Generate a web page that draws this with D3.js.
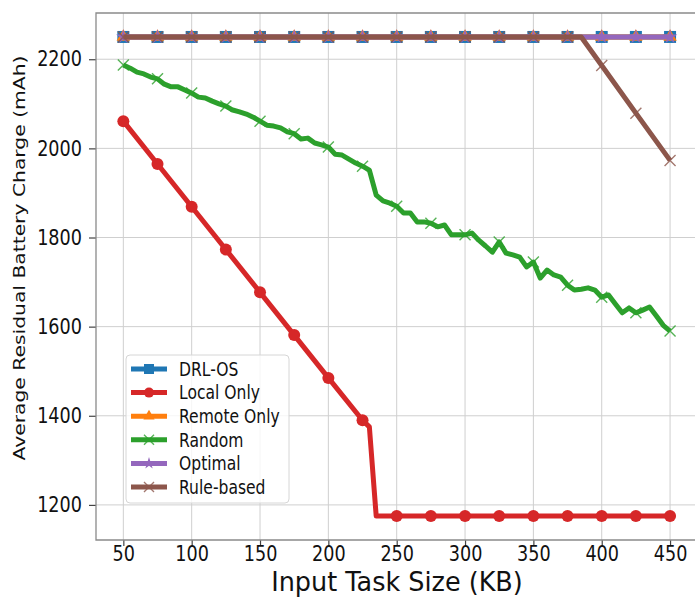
<!DOCTYPE html>
<html>
<head>
<meta charset="utf-8">
<script src="https://cdn.jsdelivr.net/npm/d3@7"></script>
<style>
  body { margin: 0; background: #fff; }
  svg { display: block; font-family: "DejaVu Sans", sans-serif; }
</style>
</head>
<body>
<div id="chart"></div>
<script>

// Task sizes (KB) where the flat series were sampled
var sizes = [50, 75, 100, 125, 150, 175, 200, 225, 250, 275, 300, 325, 350, 375, 400, 425, 450];

var drlOs      = [2250, 2250, 2250, 2250, 2250, 2250, 2250, 2250, 2250, 2250, 2250, 2250, 2250, 2250, 2250, 2250, 2250];
var remoteOnly = [2250, 2250, 2250, 2250, 2250, 2250, 2250, 2250, 2250, 2250, 2250, 2250, 2250, 2250, 2250, 2250, 2250];
var optimal    = [2250, 2250, 2250, 2250, 2250, 2250, 2250, 2250, 2250, 2250, 2250, 2250, 2250, 2250, 2250, 2250, 2250];

var localSizes = [50, 75, 100, 125, 150, 175, 200, 225, 230, 235, 250, 275, 300, 325, 350, 375, 400, 425, 450];
var localOnly  = [2061, 1965, 1869, 1773, 1677, 1581, 1485, 1390, 1375, 1175, 1175, 1175, 1175, 1175, 1175, 1175, 1175, 1175, 1175];

var randomSizes = [50, 55, 60, 65, 70, 75, 80, 85, 90, 95,
                   100, 105, 110, 115, 120, 125, 130, 135, 140, 145,
                   150, 155, 160, 165, 170, 175, 180, 185, 190, 195,
                   200, 205, 210, 215, 220, 225, 230, 235, 240, 245,
                   250, 255, 260, 265, 270, 275, 280, 285, 290, 295,
                   300, 305, 310, 315, 320, 325, 330, 335, 340, 345,
                   350, 355, 360, 365, 370, 375, 380, 385, 390, 395,
                   400, 405, 410, 415, 420, 425, 430, 435, 440, 445, 450];
var random = [2187, 2180, 2171, 2167, 2160, 2156, 2144, 2138, 2138, 2131,
              2124, 2115, 2113, 2106, 2100, 2095, 2086, 2082, 2077, 2070,
              2061, 2052, 2050, 2046, 2037, 2033, 2021, 2023, 2012, 2008,
              2003, 1987, 1985, 1976, 1967, 1960, 1951, 1895, 1882, 1877,
              1870, 1855, 1855, 1835, 1835, 1832, 1824, 1828, 1806, 1806,
              1806, 1810, 1794, 1781, 1767, 1790, 1765, 1761, 1756, 1734,
              1745, 1709, 1727, 1716, 1711, 1693, 1682, 1684, 1687, 1682,
              1666, 1671, 1651, 1631, 1642, 1631, 1637, 1644, 1624, 1603, 1590];

var ruleSizes = [50, 75, 100, 125, 150, 175, 200, 225, 250, 275, 300, 325, 350, 375, 385, 400, 425, 450];
var ruleBased = [2250, 2250, 2250, 2250, 2250, 2250, 2250, 2250, 2250, 2250, 2250, 2250, 2250, 2250, 2250, 2186, 2079, 1973];

var xTicks = [50, 100, 150, 200, 250, 300, 350, 400, 450];
var yTicks = [1200, 1400, 1600, 1800, 2000, 2200];

var width = 695,
    height = 597,
    plotLeft = 96,
    plotTop = 13,
    plotBottom = 540,
    squeeze = 0.82; // text in the picture is taller than it is wide

function zip(xs, ys){
  return xs.map(function(x, i){ return { x: x, y: ys[i] }; });
}

var series = [
  { name: 'DRL-OS',      color: '#1f77b4', marker: 'square',   data: zip(sizes, drlOs) },
  { name: 'Local Only',  color: '#d62728', marker: 'circle',   data: zip(localSizes, localOnly) },
  { name: 'Remote Only', color: '#ff7f0e', marker: 'triangle', data: zip(sizes, remoteOnly) },
  { name: 'Random',      color: '#2ca02c', marker: 'x',        data: zip(randomSizes, random) },
  { name: 'Optimal',     color: '#9467bd', marker: 'star',     data: zip(sizes, optimal) },
  { name: 'Rule-based',  color: '#8c564b', marker: 'x',        data: zip(ruleSizes, ruleBased) }
];

var x = d3.scaleLinear().domain([30, 470]).range([plotLeft, 697.4]);
var y = d3.scaleLinear().domain([1121.25, 2303.75]).range([plotBottom, plotTop]);

var svg = d3.select('#chart')
  .append('svg')
    .attr('width', width)
    .attr('height', height);

// Grid
svg.append('g')
  .selectAll('line')
  .data(xTicks)
  .enter()
    .append('line')
      .attr('x1', function(d){ return x(d); })
      .attr('x2', function(d){ return x(d); })
      .attr('y1', plotTop)
      .attr('y2', plotBottom)
      .attr('stroke', '#cfcfcf')
      .attr('stroke-width', 1);

svg.append('g')
  .selectAll('line')
  .data(yTicks)
  .enter()
    .append('line')
      .attr('x1', plotLeft)
      .attr('x2', width)
      .attr('y1', function(d){ return y(d); })
      .attr('y2', function(d){ return y(d); })
      .attr('stroke', '#cfcfcf')
      .attr('stroke-width', 1);

// Axes
var xAxis = svg.append('g')
  .attr('transform', 'translate(0,' + plotBottom + ')')
  .call(d3.axisBottom(x).tickValues(xTicks).tickSize(6).tickSizeOuter(0).tickPadding(0));

var yAxis = svg.append('g')
  .attr('transform', 'translate(' + plotLeft + ',0)')
  .call(d3.axisLeft(y).tickValues(yTicks).tickFormat(d3.format('d')).tickSize(7).tickSizeOuter(0));

[xAxis, yAxis].forEach(function(ax){
  ax.select('.domain').remove();
  ax.selectAll('.tick line').attr('stroke', '#444').attr('stroke-width', 1.2);
  ax.selectAll('.tick text')
    .attr('fill', '#111')
    .style('font-size', '21px')
    .style('font-family', '"DejaVu Sans", sans-serif');
});
xAxis.selectAll('.tick text').attr('transform', 'scale(0.84,1)');
yAxis.selectAll('.tick text')
  .attr('x', -14 / 0.84)
  .attr('transform', 'scale(0.84,1)');

// Frame
svg.append('path')
  .attr('d', 'M' + (width + 2) + ',' + plotTop + 'H' + plotLeft + 'V' + plotBottom + 'H' + (width + 2))
  .attr('fill', 'none')
  .attr('stroke', '#8a8a8a')
  .attr('stroke-width', 1.3);

// Marker shapes
function markerPath(kind, s){
  if (kind === 'square')   return d3.symbol(d3.symbolSquare, s * s)();
  if (kind === 'circle')   return d3.symbol(d3.symbolCircle, Math.PI * s * s / 4)();
  if (kind === 'triangle') return d3.symbol(d3.symbolTriangle, s * s * 0.55)();
  if (kind === 'star')     return d3.symbol(d3.symbolStar, s * s * 0.45)();
  var h = s / 2;
  return 'M' + (-h) + ',' + (-h) + 'L' + h + ',' + h + 'M' + (-h) + ',' + h + 'L' + h + ',' + (-h);
}

function drawMarker(g, kind, color, s){
  var p = g.append('path').attr('d', markerPath(kind, s));
  if (kind === 'x') {
    p.attr('fill', 'none').attr('stroke', color).attr('stroke-width', 1.4).attr('opacity', 0.8);
  } else {
    p.attr('fill', color);
  }
}

var line = d3.line()
  .x(function(d){ return x(d.x); })
  .y(function(d){ return y(d.y); });

var markerSize = { square: 12, circle: 12, triangle: 12, star: 12, x: 11 };

// Lines with markers every 25 KB, drawn in legend order
series.forEach(function(s){
  var g = svg.append('g');
  g.append('path')
    .datum(s.data)
    .attr('d', line)
    .attr('fill', 'none')
    .attr('stroke', s.color)
    .attr('stroke-width', 5)
    .attr('stroke-linejoin', 'round');

  g.selectAll('.mark')
    .data(s.data.filter(function(d){ return d.x % 25 === 0; }))
    .enter()
      .append('g')
        .attr('transform', function(d){ return 'translate(' + x(d.x) + ',' + y(d.y) + ')'; })
        .each(function(){ drawMarker(d3.select(this), s.marker, s.color, markerSize[s.marker]); });
});

// Legend
var legend = svg.append('g').attr('transform', 'translate(126,355)');
legend.append('rect')
  .attr('width', 163)
  .attr('height', 148)
  .attr('rx', 4)
  .attr('fill', '#fff')
  .attr('fill-opacity', 0.8)
  .attr('stroke', '#d6d6d6');

series.forEach(function(s, i){
  var row = legend.append('g').attr('transform', 'translate(0,' + (14 + i * 23.6) + ')');
  row.append('line')
    .attr('x1', 5).attr('x2', 41)
    .attr('stroke', s.color)
    .attr('stroke-width', 5);
  drawMarker(row.append('g').attr('transform', 'translate(23,0)'), s.marker, s.color, 10);
  row.append('g')
    .attr('transform', 'translate(53,0) scale(' + squeeze + ',1)')
    .append('text')
      .attr('dy', '0.36em')
      .style('font-size', '19px')
      .attr('fill', '#111')
      .text(s.name);
});

// Axis titles
svg.append('text')
  .attr('transform', 'translate(' + 397 + ',590.5) scale(0.98,1)')
  .attr('text-anchor', 'middle')
  .style('font-size', '26px')
  .attr('fill', '#111')
  .text('Input Task Size (KB)');

svg.append('text')
  .attr('transform', 'translate(25,258) rotate(-90) scale(1,' + squeeze + ')')
  .attr('text-anchor', 'middle')
  .style('font-size', '20.3px')
  .attr('fill', '#111')
  .text('Average Residual Battery Charge (mAh)');

</script>
</body>
</html>
